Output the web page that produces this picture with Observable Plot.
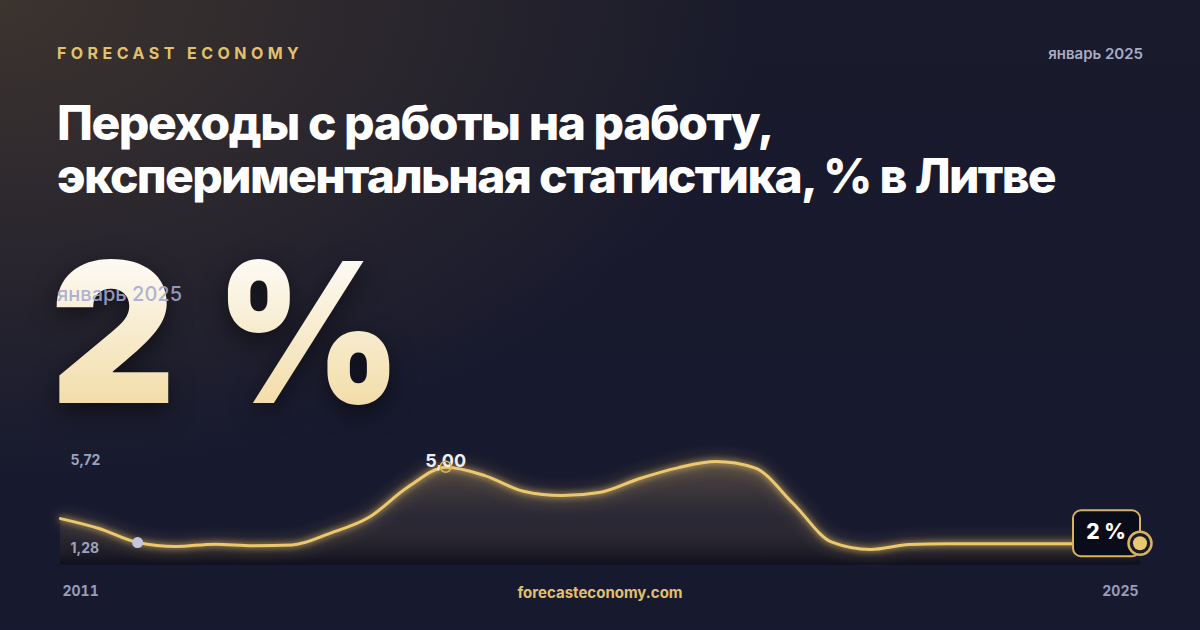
<!DOCTYPE html>
<html><head><meta charset="utf-8">
<script src="https://cdn.jsdelivr.net/npm/d3@7"></script>
<script src="https://cdn.jsdelivr.net/npm/@observablehq/plot@0.6"></script>
<style>
html,body{margin:0;padding:0;}
body{width:1200px;height:630px;overflow:hidden;position:relative;font-family:Inter,"Noto Sans",sans-serif;
background:
 radial-gradient(ellipse 760px 480px at 0% 0%, rgba(72,60,48,0.75), rgba(72,60,48,0) 100%),
 linear-gradient(180deg,#191a2b 0%, #171930 100%);}
.abs{position:absolute;white-space:nowrap;line-height:1;}
#brand{left:57px;top:45px;font-size:16px;font-weight:700;letter-spacing:4.45px;color:#e3c06c;}
#date{right:57px;top:46px;font-size:15px;font-weight:600;color:#a9abc6;}
.t{left:57px;font-size:48px;font-weight:800;color:#fff;}
#t1{top:99px;} #t2{top:152px;}
#big{left:50px;top:235px;font-size:195px;font-weight:900;filter:drop-shadow(0 8px 12px rgba(0,0,0,.5));}
#big span{display:inline-block;background:linear-gradient(180deg,#fdfbf6 10%,#f1d89c 100%);-webkit-background-clip:text;background-clip:text;color:transparent;}
#big .pc{transform:scaleX(0.92);transform-origin:left center;}
#sub{left:57px;top:284px;font-size:20px;font-weight:500;color:rgba(165,170,205,0.9);}
#site{left:0;width:1200px;text-align:center;top:585px;font-size:15px;font-weight:700;color:#e3c06c;}
#chart{position:absolute;left:0;top:440px;}
#chart svg g[aria-label="line"]{filter:drop-shadow(0 0 3px rgba(245,205,105,0.9)) drop-shadow(0 0 8px rgba(245,205,105,0.45));}
</style></head>
<body>
<div class="abs" id="brand">FORECAST ECONOMY</div>
<div class="abs" id="date">январь 2025</div>
<div class="abs t" id="t1">Переходы с работы на работу,</div>
<div class="abs t" id="t2">экспериментальная статистика, % в Литве</div>
<div class="abs" id="big"><span>2&nbsp;</span><span class="pc">%</span></div>
<div class="abs" id="sub">январь 2025</div>
<div id="chart"></div>
<div class="abs" id="site">forecasteconomy.com</div>
<script>
// ---- data ----
const periods = [2011,2011.5,2012,2012.5,2013,2013.5,2014,2014.5,2015,2015.5,2016,2016.5,2017,2017.5,2018,2018.5,2019,2019.5,2020,2020.5,2021,2021.5,2022,2022.5,2023,2023.5,2024,2024.5,2025];
const rates   = [2.84,2.34,1.63,1.43,1.55,1.47,1.51,2.11,2.91,4.42,5.43,5.01,4.22,4.00,4.17,4.85,5.40,5.72,5.40,3.59,1.65,1.28,1.53,1.57,1.57,1.57,1.57,1.57,1.57];
const yTicks = [5.72, 1.28];
const xTicks = [2011, 2025];
const peakPeriod = 2016, peakLabel = "5,00";
const dotPeriod = 2012;
const lastLabel = "2 %";

const data = periods.map((p,i)=>({p, v: rates[i]}));
const yMin = d3.min(rates), yMax = d3.max(rates);
const floor = yMin - 0.18*(yMax - yMin);
const fmt = d => d.toFixed(2).replace(".", ",");
const gold = "#ecc96f";

function defs() {
  const d = d3.create("svg:defs");
  const g = d.append("linearGradient").attr("id","areaGrad").attr("x1",0).attr("x2",0).attr("y1",0).attr("y2",1);
  g.append("stop").attr("offset","0%").attr("stop-color","rgb(210,172,105)").attr("stop-opacity",0.32);
  g.append("stop").attr("offset","55%").attr("stop-color","rgb(120,100,80)").attr("stop-opacity",0.2);
  g.append("stop").attr("offset","100%").attr("stop-color","rgb(8,8,14)").attr("stop-opacity",0.55);
  return d.node();
}
function peakMark(index, scales) {
  const v = rates[periods.indexOf(peakPeriod)];
  const x = scales.x(peakPeriod), y = scales.y(v);
  const g = d3.create("svg:g");
  g.append("text").attr("x",x).attr("y",y-5).attr("text-anchor","middle").attr("dominant-baseline","middle")
    .attr("fill","#eeeef3").attr("font-size",18).attr("font-weight",700).text(peakLabel);
  g.append("circle").attr("cx",x).attr("cy",y).attr("r",5.5).attr("fill","none").attr("stroke","#d9b25a").attr("stroke-width",1.5);
  return g.node();
}
function endMark(index, scales) {
  const p = periods[periods.length-1], v = rates[rates.length-1];
  const x = scales.x(p), y = scales.y(v);
  const g = d3.create("svg:g");
  g.append("rect").attr("x",x-67).attr("y",y-33).attr("width",67).attr("height",46).attr("rx",8)
    .attr("fill","#0b0c19").attr("stroke","#d8b35e").attr("stroke-width",2);
  g.append("text").attr("x",x-34).attr("y",y-10).attr("text-anchor","middle").attr("dominant-baseline","middle")
    .attr("fill","#fff").attr("font-size",21).attr("font-weight",800).text(lastLabel);
  g.append("circle").attr("cx",x).attr("cy",y).attr("r",11.5).attr("fill","#1a1a2a").attr("stroke","#d8b35e").attr("stroke-width",2.5);
  g.append("circle").attr("cx",x).attr("cy",y).attr("r",7).attr("fill","#e9c873");
  return g.node();
}

const chart = Plot.plot({
  width: 1200, height: 170,
  marginTop: 0, marginBottom: 28, marginLeft: 0, marginRight: 0,
  style: {background: "transparent", fontFamily: "Inter, sans-serif", overflow: "visible"},
  x: {domain: [periods[0], periods[periods.length-1]], range: [60, 1140], axis: null},
  y: {domain: [yMin, yMax], range: [109, 21], axis: null},
  marks: [
    defs,
    Plot.areaY(data, {x: "p", y1: floor, y2: "v", curve: "monotone-x", fill: "url(#areaGrad)"}),
    Plot.lineY(data, {x: "p", y: "v", curve: "monotone-x", stroke: gold, strokeWidth: 3}),
    Plot.text(yTicks, {x: periods[0], y: d => d, text: fmt, dx: 10, dy: -1, textAnchor: "start", fill: "#9ea1bf", fontSize: 14, fontWeight: 700}),
    Plot.dot([dotPeriod], {x: d => d, y: d => rates[periods.indexOf(d)], r: 5.5, fill: "#c4c7de"}),
    peakMark,
    endMark,
    Plot.axisX([xTicks[0]], {tickSize: 0, tickPadding: 4, textAnchor: "start", label: null, fontSize: 14, fontWeight: 700, color: "#9a9cba", tickFormat: d => String(d), dx: 2}),
    Plot.axisX([xTicks[1]], {tickSize: 0, tickPadding: 4, textAnchor: "end", label: null, fontSize: 14, fontWeight: 700, color: "#9a9cba", tickFormat: d => String(d), dx: -2})
  ]
});
document.getElementById("chart").appendChild(chart);

function fit(id, target) {
  const el = document.getElementById(id);
  el.style.letterSpacing = "0px";
  const w = el.getBoundingClientRect().width;
  const n = el.textContent.length;
  el.style.letterSpacing = ((target - w) / n) + "px";
}
function fitAll(){
  fit("t1", 716);
  fit("t2", 998);
}
if (document.fonts && document.fonts.ready) document.fonts.ready.then(fitAll); else fitAll();
fitAll();
</script>
</body></html>
